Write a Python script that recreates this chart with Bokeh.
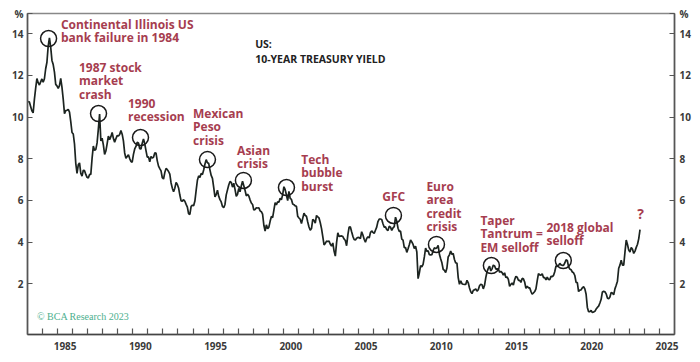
from bokeh.plotting import figure
from bokeh.models import Range1d, FixedTicker, LinearAxis, ColumnDataSource
from bokeh.embed import file_html
from bokeh.resources import INLINE
from bokeh.core.properties import value

# ---------------- data: US 10-year Treasury yield, monthly, % ----------------
start_year = 1983
yields_1980s = [
    10.75, 10.72, 10.51, 10.30, 10.20, 10.85, 11.38, 11.85, 11.65, 11.54, 11.69, 11.83,
    11.67, 11.84, 12.32, 12.63, 13.41, 13.80, 13.36, 12.72, 12.52, 12.16, 11.57, 11.50,
    11.38, 11.51, 11.86, 11.43, 10.85, 10.16, 10.31, 10.33, 10.37, 10.24, 9.78, 9.26,
    9.19, 8.70, 7.78, 7.30, 7.71, 7.80, 7.30, 7.17, 7.45, 7.43, 7.25, 7.11,
    7.08, 7.25, 7.25, 8.02, 8.61, 8.40, 8.45, 8.76, 9.42, 10.15, 8.86, 8.99,
    8.67, 8.21, 8.37, 8.72, 9.09, 8.92, 9.06, 9.26, 8.98, 8.80, 8.96, 9.11,
    9.09, 9.17, 9.36, 9.18, 8.86, 8.28, 8.02, 8.11, 8.19, 8.01, 7.87, 7.84,
]
yields_1990s = [
    8.21, 8.47, 8.59, 8.79, 8.76, 8.48, 8.47, 8.75, 8.95, 8.72, 8.39, 8.08,
    8.09, 7.85, 8.11, 8.04, 8.07, 8.28, 8.27, 7.90, 7.65, 7.53, 7.42, 7.09,
    7.03, 7.34, 7.54, 7.48, 7.39, 7.26, 6.84, 6.59, 6.42, 6.59, 6.87, 6.77,
    6.60, 6.26, 5.98, 5.97, 6.04, 5.96, 5.81, 5.68, 5.36, 5.33, 5.72, 5.77,
    5.75, 5.97, 6.48, 6.97, 7.18, 7.10, 7.30, 7.24, 7.46, 7.74, 7.96, 7.81,
    7.78, 7.47, 7.20, 7.06, 6.63, 6.17, 6.28, 6.49, 6.20, 6.04, 5.93, 5.71,
    5.65, 5.81, 6.27, 6.51, 6.74, 6.91, 6.87, 6.64, 6.83, 6.53, 6.20, 6.30,
    6.58, 6.42, 6.69, 6.92, 6.71, 6.49, 6.22, 6.30, 6.21, 6.03, 5.88, 5.81,
    5.54, 5.57, 5.65, 5.64, 5.65, 5.50, 5.46, 5.34, 4.81, 4.53, 4.83, 4.65,
    4.72, 5.00, 5.23, 5.18, 5.54, 5.90, 5.79, 5.94, 5.92, 6.11, 6.03, 6.28,
]
yields_2000s = [
    6.66, 6.52, 6.26, 5.99, 6.44, 6.10, 6.05, 5.83, 5.80, 5.74, 5.72, 5.24,
    5.16, 5.10, 4.89, 5.14, 5.39, 5.28, 5.24, 4.97, 4.73, 4.57, 4.65, 5.09,
    5.04, 4.91, 5.28, 5.21, 5.16, 4.93, 4.65, 4.26, 3.87, 3.94, 4.05, 4.03,
    4.05, 3.90, 3.81, 3.96, 3.57, 3.33, 3.98, 4.45, 4.27, 4.29, 4.30, 4.27,
    4.15, 4.08, 3.83, 4.35, 4.72, 4.73, 4.50, 4.28, 4.13, 4.10, 4.19, 4.23,
    4.22, 4.17, 4.50, 4.34, 4.14, 4.00, 4.18, 4.26, 4.20, 4.46, 4.54, 4.47,
    4.42, 4.57, 4.72, 4.99, 5.11, 5.11, 5.09, 4.88, 4.72, 4.73, 4.60, 4.56,
    4.76, 4.72, 4.56, 4.69, 4.75, 5.20, 5.00, 4.67, 4.52, 4.53, 4.15, 4.10,
    3.74, 3.74, 3.51, 3.68, 3.88, 4.10, 4.01, 3.89, 3.69, 3.81, 3.53, 2.25,
    2.52, 2.87, 2.82, 2.93, 3.29, 3.72, 3.56, 3.59, 3.40, 3.39, 3.40, 3.59,
]
yields_2010s = [
    3.73, 3.69, 3.73, 3.85, 3.42, 3.20, 3.01, 2.70, 2.65, 2.54, 2.76, 3.29,
    3.39, 3.58, 3.41, 3.46, 3.17, 3.00, 3.00, 2.30, 1.98, 2.15, 2.01, 1.98,
    1.97, 1.97, 2.17, 2.05, 1.80, 1.62, 1.53, 1.68, 1.72, 1.75, 1.65, 1.72,
    1.91, 1.98, 1.96, 1.76, 1.93, 2.30, 2.58, 2.74, 2.85, 2.62, 2.72, 2.90,
    2.86, 2.71, 2.72, 2.71, 2.56, 2.60, 2.54, 2.42, 2.53, 2.30, 2.33, 2.21,
    1.88, 1.98, 2.04, 1.94, 2.20, 2.36, 2.32, 2.17, 2.17, 2.07, 2.26, 2.24,
    2.09, 1.78, 1.89, 1.81, 1.81, 1.64, 1.50, 1.56, 1.63, 1.76, 2.14, 2.49,
    2.43, 2.42, 2.48, 2.30, 2.30, 2.19, 2.32, 2.21, 2.20, 2.36, 2.35, 2.40,
    2.58, 2.86, 2.84, 2.87, 2.98, 2.91, 2.89, 2.89, 3.00, 3.15, 3.12, 2.83,
    2.71, 2.68, 2.57, 2.53, 2.40, 2.07, 2.06, 1.63, 1.70, 1.71, 1.81, 1.86,
]
yields_2020s = [
    1.76, 1.50, 0.87, 0.66, 0.67, 0.73, 0.62, 0.65, 0.68, 0.79, 0.87, 0.93,
    1.08, 1.26, 1.61, 1.64, 1.62, 1.52, 1.32, 1.28, 1.37, 1.58, 1.56, 1.47,
    1.76, 1.93, 2.13, 2.75, 2.90, 3.14, 2.90, 2.90, 3.52, 4.10, 3.89, 3.62,
    3.53, 3.75, 3.66, 3.46, 3.57, 3.75, 3.90, 4.17, 4.60,
]

# annotated episodes (circle centres: year, yield %)
event_years = [1984.40, 1987.72, 1990.51, 1994.96, 1997.35, 2000.21, 2007.32, 2010.18, 2013.83, 2018.61]
event_values = [13.77, 10.17, 9.02, 7.96, 6.96, 6.62, 5.28, 3.89, 2.88, 3.12]
event_labels = [
    "Continental Illinois US\nbank failure in 1984",
    "1987 stock\nmarket\ncrash",
    "1990\nrecession",
    "Mexican\nPeso\ncrisis",
    "Asian\ncrisis",
    "Tech\nbubble\nburst",
    "GFC",
    "Euro\narea\ncredit\ncrisis",
    "Taper\nTantrum =\nEM selloff",
    "2018 global\nselloff",
]
# label anchors (left x, first-line centre y) in data units
label_x = [1985.22, 1986.42, 1989.68, 1994.00, 1996.93, 2001.19, 2006.58, 2009.51, 2013.10, 2017.49]
label_y = [14.45, 12.38, 10.65, 10.17, 8.40, 7.97, 6.19, 6.67, 5.04, 4.70]

y_ticks = [2, 4, 6, 8, 10, 12, 14]
y_unit_label = "%"
x_label_years = [1985, 1990, 1995, 2000, 2005, 2010, 2015, 2020, 2025]
x_minor_years = list(range(1984, 2026))

# ---------------- build ----------------
all_yields = yields_1980s + yields_1990s + yields_2000s + yields_2010s + yields_2020s
dates = [start_year + (i + 0.5) / 12.0 for i in range(len(all_yields))]

Y_TOP = 14.97
AX = "#555555"
LBL = "#3a3a3a"
RED = "#a63d4f"
FONT = "Open Sans"

p = figure(width=695, height=356,
           x_range=Range1d(1983, 2026), y_range=Range1d(-0.43, Y_TOP),
           output_backend="svg", toolbar_location=None,
           min_border_left=27, min_border_right=21, min_border_top=13, min_border_bottom=22)
p.background_fill_color = "white"
p.border_fill_color = "white"
p.outline_line_color = "#888888"
p.outline_line_width = 1.5
p.xgrid.visible = False
p.ygrid.visible = False

# unit label "%" sits as a tick label at the very top of each y axis
unit_pos = Y_TOP - 0.005
y_tick_positions = [float(t) for t in y_ticks] + [unit_pos]
y_overrides = {float(t): str(t) for t in y_ticks}
y_overrides[unit_pos] = y_unit_label


def style_y(ax):
    ax.ticker = FixedTicker(ticks=y_tick_positions)
    ax.major_label_overrides = y_overrides
    ax.axis_line_color = AX
    ax.axis_line_width = 1.5
    ax.major_tick_in = 5
    ax.major_tick_out = 0
    ax.major_tick_line_color = AX
    ax.major_tick_line_width = 1.2
    ax.minor_tick_line_color = None
    ax.major_label_text_font = FONT
    ax.major_label_text_font_style = "bold"
    ax.major_label_text_font_size = "10px"
    ax.major_label_text_color = LBL
    ax.major_label_standoff = 4


ya = p.yaxis[0]
style_y(ya)
ry = LinearAxis()
style_y(ry)
ry.major_label_standoff = 5
p.add_layout(ry, "right")

# bottom axis: ticks at year boundaries, labels centred mid-year
xa = p.xaxis[0]
xa.ticker = FixedTicker(ticks=[yr + 0.5 for yr in x_label_years], minor_ticks=x_minor_years)
xa.major_label_overrides = {yr + 0.5: str(yr) for yr in x_label_years}
xa.axis_line_color = "#444444"
xa.axis_line_width = 1.5
xa.major_tick_line_color = None
xa.major_tick_in = 0
xa.major_tick_out = 0
xa.minor_tick_in = 6
xa.minor_tick_out = 0
xa.minor_tick_line_color = AX
xa.minor_tick_line_width = 1.2
xa.major_label_text_font = FONT
xa.major_label_text_font_style = "bold"
xa.major_label_text_font_size = "10px"
xa.major_label_text_color = LBL
xa.major_label_standoff = 7

# series
p.line(dates, all_yields, line_color="#1c2420", line_width=1.7)

# circles
p.scatter(event_years, event_values, marker="circle", size=16, fill_color=None,
          line_color="#1a1a1a", line_width=1.5)

# annotation texts, one row per line
line_step = 0.643
tx, ty, tt = [], [], []
for lab, lx, ly in zip(event_labels, label_x, label_y):
    for k, row in enumerate(lab.split("\n")):
        tx.append(lx)
        ty.append(ly - k * line_step)
        tt.append(row)
src = ColumnDataSource(dict(x=tx, y=ty, text=tt))
p.text(x="x", y="y", text="text", source=src, text_font=value(FONT),
       text_font_style="bold", text_font_size="12px", text_color=RED,
       text_baseline="middle", text_align="left")

p.text(x=[2023.75], y=[5.37], text=["?"], text_font=value(FONT), text_font_style="bold",
       text_font_size="14px", text_color=RED, text_baseline="middle", text_align="center")

# title
p.text(x=[1998.13, 1998.13], y=[13.49, 12.77], text=["US:", "10-YEAR TREASURY YIELD"],
       text_font=value(FONT), text_font_style="bold", text_font_size="10.5px",
       text_color="#222222", text_baseline="middle", text_align="left")

# source
p.text(x=[1983.63], y=[0.43], text=["\u00a9 BCA Research 2023"], text_font=value("Liberation Serif"),
       text_font_size="10px", text_color="#4caf8e", text_baseline="middle", text_align="left")

open("out.html", "w").write(file_html(p, INLINE))
